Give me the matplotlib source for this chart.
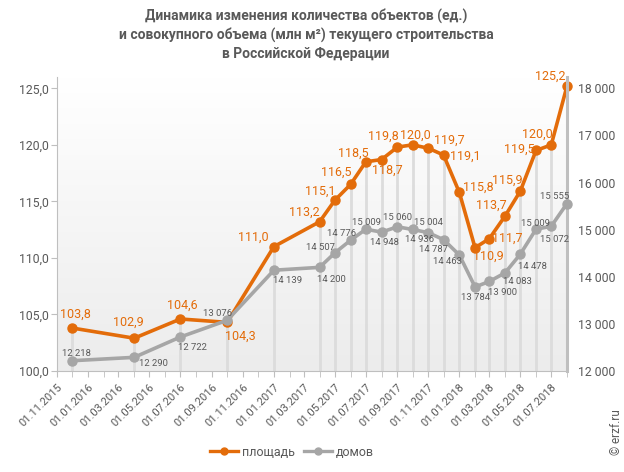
import matplotlib
matplotlib.use("Agg")
import matplotlib.pyplot as plt
import matplotlib.dates as mdates
from matplotlib.lines import Line2D
from matplotlib.colors import LinearSegmentedColormap
import numpy as np
import datetime as dt

# ---------------- data ----------------
dates = ["2015-12-01", "2016-04-01", "2016-07-01", "2016-10-01", "2017-01-01",
         "2017-04-01", "2017-05-01", "2017-06-01", "2017-07-01", "2017-08-01",
         "2017-09-01", "2017-10-01", "2017-11-01", "2017-12-01", "2018-01-01",
         "2018-02-01", "2018-03-01", "2018-04-01", "2018-05-01", "2018-06-01",
         "2018-07-01", "2018-08-01"]
area = [103.8, 102.9, 104.6, 104.3, 111.0, 113.2, 115.1, 116.5, 118.5, 118.7,
        119.8, 120.0, 119.7, 119.1, 115.8, 110.9, 111.7, 113.7, 115.9, 119.5,
        120.0, 125.2]
houses = [12218, 12290, 12722, 13076, 14139, 14200, 14507, 14776, 15009, 14948,
          15060, 15004, 14936, 14787, 14463, 13784, 13900, 14083, 14478, 15009,
          15072, 15555]
title = ("Динамика изменения количества объектов (ед.)\n"
         "и совокупного объема (млн м²) текущего строительства\n"
         "в Российской Федерации")
legend_labels = ["площадь", "домов"]

# label offsets in pixels (dx, dy)
area_off = [(3, 14), (-6, 16), (2, 14), (13, -14), (-21, 9), (-15, 9), (-15, 9),
            (-14, 12), (-13, 9), (6, -11), (-14, 11), (3, 10), (21, 8), (22, -1),
            (19, 5), (13, -9), (18, 0), (-14, 11), (-13, 11), (-17, 1), (-14, 11),
            (-17, 10)]
house_off = [(4, 7), (19, -6), (12, -11), (-10, 7), (14, -10), (12, -12), (-14, 5),
             (-9, 7), (1, 7), (3, -10), (0, 9), (16, 7), (-9, -7), (-10, -10),
             (-12, -7), (0, -11), (13, -11), (12, -9), (12, -12), (-1, 6), (3, -13),
             (-12, 7)]

ORANGE = "#E36C0A"
GRAY = "#A6A6A6"
TXT = "#595959"
AX = "#BFBFBF"

plt.rcParams['font.family'] = ['Roboto', 'DejaVu Sans']

fig = plt.figure(figsize=(6.24, 4.72), dpi=100)
ax = fig.add_axes([57/624, 1-371/472, 510/624, 294/472])
ax2 = ax.twinx()

x = mdates.date2num([dt.datetime.strptime(d, "%Y-%m-%d") for d in dates])
xmin = mdates.date2num(dt.datetime(2015, 11, 1))
xmax = mdates.date2num(dt.datetime(2018, 8, 1))

# background gradient
cmap = LinearSegmentedColormap.from_list("bg", ["#ECECEC", "#FFFFFF"])
grad = np.linspace(0, 1, 256).reshape(-1, 1)
ax.imshow(grad, extent=[0, 1, 0, 1], transform=ax.transAxes, aspect='auto',
          cmap=cmap, origin='lower', zorder=0)

ax.set_xlim(xmin, xmax)
ax.set_ylim(100, 126)
ax2.set_ylim(12000, 18240)

# drop lines
ax.vlines(x, 100, area, colors="#DCDCDC", linewidth=2, zorder=1)

ax.plot(x, area, color=ORANGE, linewidth=2.6, marker='o', markersize=6.5,
        zorder=3, clip_on=False)
ax2.plot(x, houses, color=GRAY, linewidth=2.6, marker='o', markersize=6.5,
         zorder=3, clip_on=False)

for xi, v, (dx, dy) in zip(x, area, area_off):
    ax.annotate(f"{v:.1f}".replace('.', ','), (xi, v), xytext=(dx, dy),
                textcoords='offset pixels', ha='center', va='center',
                fontsize=9, color=ORANGE, zorder=5, annotation_clip=False)
for xi, v, (dx, dy) in zip(x, houses, house_off):
    ax2.annotate(f"{v:,}".replace(',', ' '), (xi, v), xytext=(dx, dy),
                 textcoords='offset pixels', ha='center', va='center',
                 fontsize=6.8, color=TXT, zorder=5, annotation_clip=False)

# axes styling
ax.set_yticks([100, 105, 110, 115, 120, 125])
ax.set_yticklabels([f"{t:.1f}".replace('.', ',') for t in [100, 105, 110, 115, 120, 125]])
ax2.set_yticks(range(12000, 18001, 1000))
ax2.set_yticklabels([f"{t:,}".replace(',', ' ') for t in range(12000, 18001, 1000)])

major = [mdates.date2num(dt.datetime(2015 + (10 + 2*i) // 12, (10 + 2*i) % 12 + 1, 1)) for i in range(17)]
ax.set_xticks(major)
ax.set_xticklabels([mdates.num2date(m).strftime("%d.%m.%Y") for m in major],
                   rotation=45, ha='right', rotation_mode='anchor')
ax.xaxis.set_minor_locator(mdates.MonthLocator())

ax.spines['top'].set_visible(False)
ax2.spines['top'].set_visible(False)
ax.spines['right'].set_visible(False)
ax2.spines['left'].set_visible(False)
ax2.spines['bottom'].set_visible(False)
ax.spines['left'].set_color(AX)
ax.spines['bottom'].set_color(AX)
ax2.spines['right'].set_color(AX)
ax2.spines['right'].set_linewidth(2.2)

ax.tick_params(axis='y', colors=AX, labelcolor=TXT, labelsize=8.8, length=4, pad=2)
ax2.tick_params(axis='y', colors=AX, labelcolor=TXT, labelsize=8.8, length=0, pad=8)
ax.tick_params(axis='x', which='both', colors=AX, labelcolor=TXT, labelsize=8, length=4, pad=4)

fig.text(306/624, 1 - 9/472, title, ha='center', va='top', fontsize=10,
         fontweight='bold', color=TXT, linespacing=1.35)

handles = [Line2D([], [], color=ORANGE, linewidth=2.4, marker='o', markersize=5),
           Line2D([], [], color=GRAY, linewidth=2.4, marker='o', markersize=5)]
fig.legend(handles, legend_labels, loc='center', bbox_to_anchor=(292/624, 20/472),
           ncol=2, frameon=False, fontsize=9, labelcolor=TXT, handlelength=2.2,
           handletextpad=0.3, columnspacing=0.8)

fig.text(617/624, 1 - 432/472, "© erzf.ru", rotation=90, ha='center', va='center',
         fontsize=8.5, color=TXT)

fig.savefig("out.png", dpi=100)
